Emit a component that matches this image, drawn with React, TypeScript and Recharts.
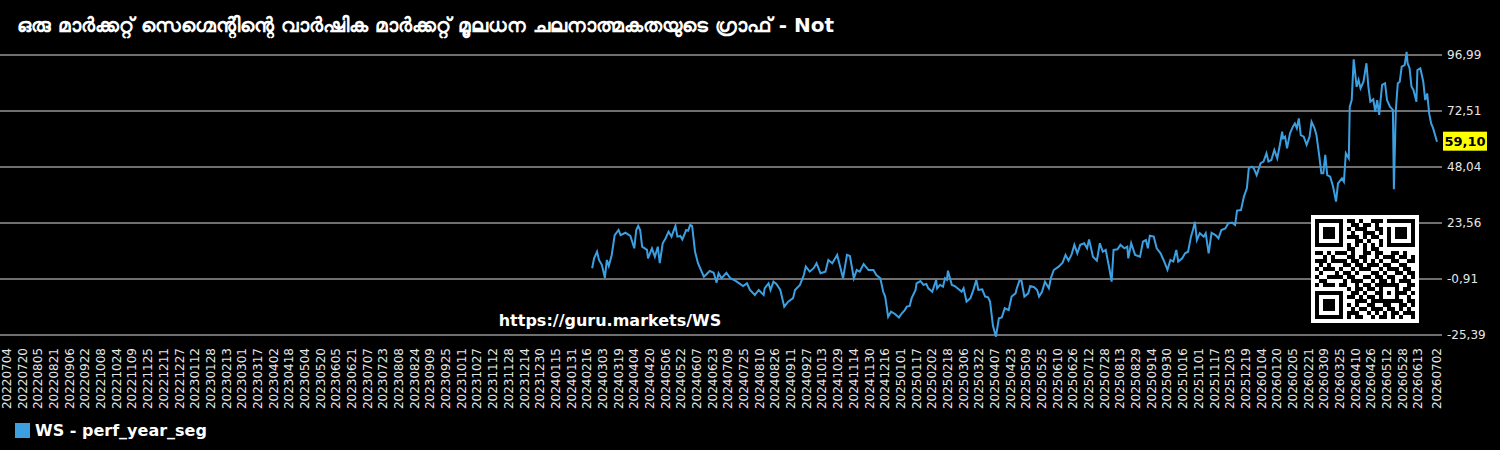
import { LineChart, Line, XAxis, YAxis, CartesianGrid, ReferenceLine, Legend } from 'recharts'

const LINE_COLOR = '#3b9fe2'

// readings, one array per year
const dates2024 = [
  '20240221', '20240223', '20240226', '20240228', '20240302', '20240305', '20240307', '20240309', '20240312', '20240315',
  '20240319', '20240321', '20240326', '20240331', '20240404', '20240406', '20240408', '20240410', '20240412', '20240417',
  '20240418', '20240422', '20240425', '20240428', '20240430', '20240503', '20240506', '20240509', '20240512', '20240516',
  '20240518', '20240521', '20240523', '20240527', '20240529', '20240531', '20240602', '20240605', '20240608', '20240614',
  '20240620', '20240624', '20240627', '20240629', '20240702', '20240707', '20240711', '20240716', '20240719', '20240724',
  '20240728', '20240731', '20240805', '20240809', '20240814', '20240815', '20240819', '20240821', '20240824', '20240827',
  '20240831', '20240904', '20240908', '20240913', '20240915', '20240920', '20240924', '20240926', '20240930', '20241004',
  '20241007', '20241011', '20241016', '20241019', '20241023', '20241028', '20241031', '20241103', '20241107', '20241110',
  '20241114', '20241117', '20241120', '20241124', '20241129', '20241204', '20241207', '20241211', '20241214', '20241216',
  '20241219', '20241222', '20241226', '20241230',
]
const values2024 = [
  3.8, 8.1, 11.0, 7.4, 5.2, -0.4, 7.4, 4.8, 9.6, 18.3,
  20.5, 18.3, 19.3, 17.9, 12.5, 20.5, 22.3, 20.5, 13.2, 11.8,
  8.1, 12.5, 8.8, 13.2, 6.0, 14.7, 16.9, 19.8, 17.6, 22.3,
  17.6, 17.9, 16.4, 20.5, 20.2, 22.7, 22.3, 11.0, 6.0, 0.1,
  2.6, 1.8, -2.5, 1.6, -0.6, 1.8, -0.6, -1.6, -2.5, -4.0,
  -2.8, -5.7, -7.9, -5.7, -7.9, -5.0, -2.8, -5.7, -2.1, -3.1,
  -5.7, -13.0, -10.8, -9.3, -5.7, -3.5, 0.8, 4.5, 2.3, 3.8,
  6.0, 1.6, 2.3, 7.4, 6.0, 9.6, 4.5, -0.6, 9.6, 9.1,
  -0.6, 3.0, 2.3, 5.6, 3.0, 3.0, 0.8, -0.6, -6.5, -8.6,
  -17.4, -15.2, -16.2, -17.7,
]

const dates2025 = [
  '20250102', '20250105', '20250107', '20250110', '20250112', '20250116', '20250117', '20250121', '20250124', '20250127',
  '20250129', '20250202', '20250206', '20250207', '20250210', '20250213', '20250215', '20250217', '20250218', '20250222',
  '20250225', '20250301', '20250304', '20250306', '20250309', '20250313', '20250316', '20250319', '20250321', '20250325',
  '20250328', '20250331', '20250402', '20250405', '20250408', '20250411', '20250414', '20250417', '20250421', '20250424',
  '20250428', '20250429', '20250502', '20250504', '20250507', '20250511', '20250513', '20250517', '20250520', '20250522',
  '20250525', '20250528', '20250601', '20250603', '20250606', '20250611', '20250615', '20250618', '20250621', '20250624',
  '20250627', '20250630', '20250703', '20250707', '20250710', '20250712', '20250716', '20250720', '20250723', '20250726',
  '20250729', '20250802', '20250804', '20250806', '20250810', '20250813', '20250817', '20250820', '20250821', '20250824',
  '20250828', '20250902', '20250905', '20250908', '20250910', '20250912', '20250916', '20250919', '20250923', '20250926',
  '20250930', '20251003', '20251006', '20251009', '20251011', '20251015', '20251018', '20251021', '20251024', '20251026',
  '20251028', '20251030', '20251102', '20251106', '20251108', '20251111', '20251114', '20251118', '20251121', '20251124',
  '20251128', '20251201', '20251205', '20251208', '20251210', '20251214', '20251217', '20251220', '20251222', '20251225',
  '20251227', '20251230',
]
const values2025 = [
  -15.9, -14.5, -13.0, -12.7, -9.3, -5.7, -2.8, -1.8, -3.5, -3.1,
  -5.0, -6.5, -1.3, -5.0, -3.5, -4.3, -0.6, -1.3, 2.7, -3.5,
  -4.0, -5.4, -6.5, -5.0, -10.8, -9.3, -5.7, -1.3, -5.7, -5.4,
  -8.6, -8.9, -10.8, -21.5, -26.1, -18.1, -17.7, -13.7, -14.5, -8.6,
  -7.2, -5.4, -1.6, -1.6, -8.6, -7.2, -4.0, -4.5, -5.7, -8.6,
  -6.5, -2.1, -5.0, -0.6, 3.0, 4.5, 6.2, 9.6, 7.1, 9.6,
  14.0, 10.3, 14.0, 14.7, 12.5, 16.4, 8.8, 7.1, 14.7, 11.0,
  11.8, 3.0, -2.1, 11.8, 12.1, 14.0, 12.5, 13.2, 8.1, 14.7,
  9.6, 8.8, 15.4, 16.1, 12.5, 18.0, 17.6, 12.5, 10.3, 7.4,
  3.1, 7.4, 6.7, 11.8, 6.7, 8.1, 10.3, 11.0, 17.6, 20.5,
  24.1, 16.1, 19.1, 17.6, 19.1, 10.3, 19.3, 18.3, 16.9, 20.5,
  21.2, 23.4, 23.7, 22.7, 29.0, 29.2, 35.1, 38.7, 47.5, 48.2,
  47.5, 44.5,
]

const dates2026 = [
  '20260103', '20260106', '20260109', '20260111', '20260114', '20260117', '20260120', '20260123', '20260125', '20260126',
  '20260128', '20260130', '20260202', '20260205', '20260207', '20260209', '20260211', '20260213', '20260216', '20260219',
  '20260222', '20260224', '20260227', '20260301', '20260304', '20260306', '20260308', '20260310', '20260312', '20260315',
  '20260318', '20260321', '20260323', '20260327', '20260329', '20260331', '20260403', '20260404', '20260406', '20260408',
  '20260411', '20260413', '20260415', '20260418', '20260421', '20260423', '20260425', '20260428', '20260430', '20260502',
  '20260504', '20260507', '20260510', '20260512', '20260515', '20260518', '20260519', '20260521', '20260523', '20260525',
  '20260527', '20260530', '20260601', '20260602', '20260604', '20260606', '20260608', '20260611', '20260612', '20260615',
  '20260618', '20260620', '20260622', '20260624', '20260626', '20260628', '20260702',
]
const values2026 = [
  49.7, 50.4, 54.0, 50.4, 51.1, 55.5, 51.8, 58.4, 63.5, 60.6,
  61.3, 56.2, 62.8, 65.7, 67.1, 65.0, 69.3, 62.0, 61.3, 57.7,
  61.3, 67.8, 65.0, 62.0, 52.5, 45.3, 45.3, 53.3, 44.5, 43.8,
  39.4, 32.9, 40.9, 43.1, 41.6, 54.0, 51.8, 74.4, 77.3, 95.1,
  83.1, 86.1, 82.4, 85.3, 93.4, 83.1, 76.6, 77.6, 72.2, 77.3,
  70.8, 83.9, 84.6, 77.3, 74.4, 73.0, 38.3, 73.0, 84.6, 85.3,
  91.9, 92.6, 98.4, 93.4, 91.2, 83.1, 81.7, 76.6, 90.4, 91.2,
  85.3, 77.3, 80.2, 71.5, 67.1, 65.0, 59.1,
]

const xTickLabels = [
  '20220704', '20220720', '20220805', '20220821', '20220906', '20220922', '20221008', '20221024', '20221109', '20221125',
  '20221211', '20221227', '20230112', '20230128', '20230213', '20230301', '20230317', '20230402', '20230418', '20230504',
  '20230520', '20230605', '20230621', '20230707', '20230723', '20230808', '20230824', '20230909', '20230925', '20231011',
  '20231027', '20231112', '20231128', '20231214', '20231230', '20240115', '20240131', '20240216', '20240303', '20240319',
  '20240404', '20240420', '20240506', '20240522', '20240607', '20240623', '20240709', '20240725', '20240810', '20240826',
  '20240911', '20240927', '20241013', '20241029', '20241114', '20241130', '20241216', '20250101', '20250117', '20250202',
  '20250218', '20250306', '20250322', '20250407', '20250423', '20250509', '20250525', '20250610', '20250626', '20250712',
  '20250728', '20250813', '20250829', '20250914', '20250930', '20251016', '20251101', '20251117', '20251203', '20251219',
  '20260104', '20260120', '20260205', '20260221', '20260309', '20260325', '20260410', '20260426', '20260512', '20260528',
  '20260613', '20260702',
]

const yTicks = [-25.39, -0.91, 23.56, 48.04, 72.51, 96.99]
const lastValue = 59.1

const title = 'ഒരു മാർക്കറ്റ് സെഗ്മെന്റിന്റെ വാർഷിക മാർക്കറ്റ് മൂലധന ചലനാത്മകതയുടെ ഗ്രാഫ് - Not'

const qrRows = [
  '1111111011010011101111111',
  '1000001001101101000000001',
  '1011101010111001101011101',
  '1011101001001110101011101',
  '1011101011101011001011101',
  '1000001000110100101000001',
  '1111111010101010101111111',
  '0000000011001011000000000',
  '1101011101001101100110100',
  '0010100011011001011101101',
  '1110111101101010100110011',
  '0101000110110111011001100',
  '1011101001011100101110110',
  '0100010110100011010011011',
  '1001111011001101101100101',
  '0110000101110010110101110',
  '1011101100101101111110011',
  '0000000010110110100010110',
  '1111111001101001101011101',
  '1000001011010110100010010',
  '1011101000111011111111011',
  '1011101010100110011001101',
  '1011101001011011101101010',
  '1000001011100101010110111',
  '1111111010110010110101001',
]

const FONT = 'DejaVu Sans'

const dayIndex = (s: string) =>
  (Date.UTC(+s.slice(0, 4), +s.slice(4, 6) - 1, +s.slice(6, 8)) - Date.UTC(2022, 6, 4)) / 86400000

const data = [
  ...dates2024.map((d, i) => ({ d: dayIndex(d), v: values2024[i] })),
  ...dates2025.map((d, i) => ({ d: dayIndex(d), v: values2025[i] })),
  ...dates2026.map((d, i) => ({ d: dayIndex(d), v: values2026[i] })),
]

const xTicks = xTickLabels.map(dayIndex)
const labelByDay = new Map(xTickLabels.map((l) => [dayIndex(l), l]))
const lastDay = xTicks[xTicks.length - 1]

const fmt = (v: number) => v.toFixed(2).replace('.', ',')

const DateTick = ({ x, y, payload }: any) => (
  <text
    x={x}
    y={y}
    transform={`rotate(-90, ${x}, ${y})`}
    textAnchor="end"
    dominantBaseline="central"
    fill="#e6e6e6"
    fontSize={12}
    fontFamily={FONT}
  >
    {labelByDay.get(payload.value)}
  </text>
)

const LastLabel = ({ viewBox }: any) => {
  if (!viewBox) return null
  const x = viewBox.x + viewBox.width + 1
  const y = viewBox.y
  return (
    <g>
      <rect x={x} y={y - 10} width={44} height={19} fill="#ffff00" />
      <text x={x + 22} y={y} textAnchor="middle" dominantBaseline="central" fontSize={13} fontWeight="bold" fontFamily={FONT} fill="#000">
        {fmt(lastValue)}
      </text>
    </g>
  )
}

const LegendContent = () => (
  <div style={{ display: 'flex', alignItems: 'center', height: 20, paddingLeft: 15 }}>
    <span style={{ display: 'inline-block', width: 15, height: 15, background: LINE_COLOR, marginRight: 5 }} />
    <span style={{ color: '#fff', fontWeight: 'bold', fontSize: 16, fontFamily: FONT }}>WS - perf_year_seg</span>
  </div>
)

function QrCode() {
  return (
    <svg width={108} height={108} style={{ position: 'absolute', left: 1311, top: 215 }}>
      <rect width={108} height={108} fill="#fff" />
      {qrRows.map((row, r) =>
        row.split('').map((c, col) =>
          c === '1' ? <rect key={`${r}-${col}`} x={4 + col * 4} y={4 + r * 4} width={4} height={4} fill="#000" /> : null
        )
      )}
    </svg>
  )
}

export default function App() {
  return (
    <div style={{ position: 'relative', width: 1500, height: 450, background: '#000', fontFamily: FONT, overflow: 'hidden' }}>
      <style>{'body{margin:0;background:#000}'}</style>
      <div style={{ position: 'absolute', left: 17, top: 13, color: '#fff', fontSize: 20, fontWeight: 'bold', whiteSpace: 'nowrap' }}>
        {title}
      </div>
      <LineChart width={1500} height={450} data={data} margin={{ top: 44, right: 0, bottom: 10, left: 0 }}>
        <CartesianGrid vertical={false} horizontalValues={yTicks} stroke="#707070" strokeWidth={2} />
        <XAxis
          type="number"
          dataKey="d"
          domain={[0, lastDay]}
          ticks={xTicks}
          interval={0}
          padding={{ left: 7, right: 5 }}
          axisLine={false}
          tickLine={false}
          height={80}
          tick={<DateTick />}
        />
        <YAxis
          orientation="right"
          type="number"
          domain={[-27.58, 101.8]}
          allowDataOverflow
          ticks={yTicks}
          interval={0}
          width={58}
          axisLine={false}
          tickLine={false}
          tickSize={3}
          tickMargin={2}
          tickFormatter={fmt}
          tick={{ fill: '#e6e6e6', fontSize: 12, fontFamily: FONT }}
        />
        <Legend verticalAlign="bottom" align="left" content={<LegendContent />} />
        <ReferenceLine y={lastValue} stroke="none" ifOverflow="visible" label={<LastLabel />} />
        <Line
          type="linear"
          dataKey="v"
          stroke={LINE_COLOR}
          strokeWidth={2}
          dot={false}
          activeDot={false}
          isAnimationActive={false}
        />
      </LineChart>
      <div style={{ position: 'absolute', left: 410, width: 400, top: 311, textAlign: 'center', color: '#fff', fontSize: 16, fontWeight: 'bold' }}>
        https://guru.markets/WS
      </div>
      <QrCode />
    </div>
  )
}
